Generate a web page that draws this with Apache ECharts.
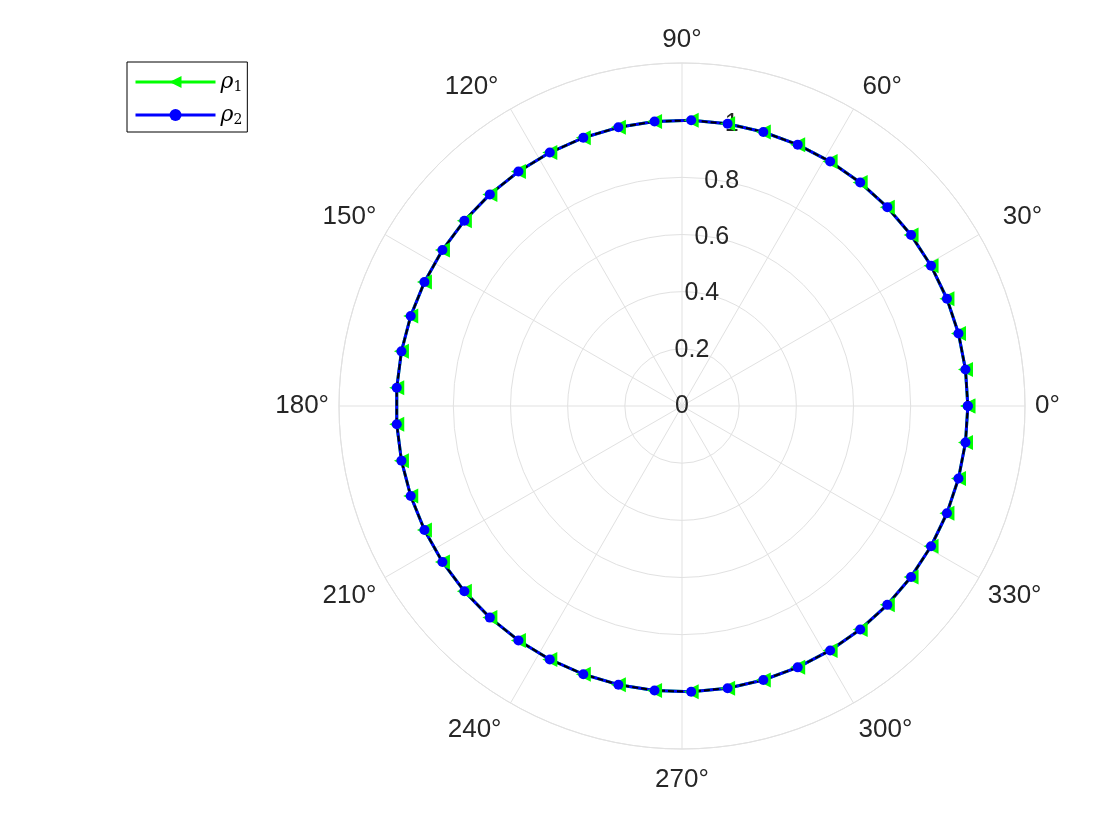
<!DOCTYPE html>
<html>
<head>
<meta charset="utf-8">
<script src="https://cdn.jsdelivr.net/npm/echarts@6/dist/echarts.min.js"></script>
<style>
  html, body { margin: 0; padding: 0; background: #fff; }
  #chart { width: 1120px; height: 840px; }
</style>
</head>
<body>
<div id="chart"></div>
<script>
// angles in degrees, 50 samples round the circle
const theta = [0, 7.35, 14.69, 22.04, 29.39, 36.73, 44.08, 51.43, 58.78, 66.12,
  73.47, 80.82, 88.16, 95.51, 102.86, 110.20, 117.55, 124.90, 132.24, 139.59,
  146.94, 154.29, 161.63, 168.98, 176.33, 183.67, 191.02, 198.37, 205.71, 213.06,
  220.41, 227.76, 235.10, 242.45, 249.80, 257.14, 264.49, 271.84, 279.18, 286.53,
  293.88, 301.22, 308.57, 315.92, 323.27, 330.61, 337.96, 345.31, 352.65, 360];
const rho1 = [1, 1, 1, 1, 1, 1, 1, 1, 1, 1, 1, 1, 1, 1, 1, 1, 1, 1, 1, 1, 1, 1, 1, 1, 1,
  1, 1, 1, 1, 1, 1, 1, 1, 1, 1, 1, 1, 1, 1, 1, 1, 1, 1, 1, 1, 1, 1, 1, 1, 1];
const rho2 = [1, 1, 1, 1, 1, 1, 1, 1, 1, 1, 1, 1, 1, 1, 1, 1, 1, 1, 1, 1, 1, 1, 1, 1, 1,
  1, 1, 1, 1, 1, 1, 1, 1, 1, 1, 1, 1, 1, 1, 1, 1, 1, 1, 1, 1, 1, 1, 1, 1, 1];
const rhoRef = rho2.slice();
const rTicks = [0, 0.2, 0.4, 0.6, 0.8, 1];

const gridColor = '#e1e1e1';
const textColor = '#262626';
const font = 'Liberation Sans, Arial, sans-serif';

// small nudges so the angle labels sit where MATLAB centres them
const angleLabelPad = {
  30: [0, 0, 0, 15],
  60: [0, 0, 0, 4],
  120: [0, 7, 0, 0],
  240: [5, 4, 0, 0],
  270: [8, 0, 0, 0],
  300: [5, 0, 0, 0]
};

const chart = echarts.init(document.getElementById('chart'));

function pairs (r) {
  return r.map((v, i) => [v, theta[i]]);
}

const angleRich = { d: { color: textColor, fontFamily: font, fontSize: 26 } };
Object.keys(angleLabelPad).forEach(k => {
  angleRich['p' + k] = { color: textColor, fontFamily: font, fontSize: 26, padding: angleLabelPad[k] };
});

const options = {
  animation: false,
  backgroundColor: '#fff',
  polar: [
    { center: [682, 406], radius: 343 },
    { center: [682, 406], radius: 343 }
  ],
  angleAxis: [
    {
      polarIndex: 0,
      type: 'value',
      min: 0,
      max: 360,
      interval: 30,
      startAngle: 0,
      clockwise: false,
      axisLine: { lineStyle: { color: gridColor, width: 1 } },
      axisTick: { show: false },
      axisLabel: {
        margin: 10,
        color: textColor,
        fontFamily: font,
        fontSize: 26,
        rich: angleRich,
        formatter: v => {
          if (v === 360) return '';
          const key = angleLabelPad[v] ? 'p' + v : 'd';
          return '{' + key + '|' + v + '°}';
        }
      },
      splitLine: { lineStyle: { color: gridColor, width: 1 } }
    },
    {
      polarIndex: 1,
      type: 'value',
      min: 0,
      max: 360,
      startAngle: 80,
      clockwise: false,
      show: false
    }
  ],
  radiusAxis: [
    {
      polarIndex: 0,
      type: 'value',
      min: 0,
      max: 1.2,
      interval: 0.2,
      axisLine: { show: false },
      axisTick: { show: false },
      axisLabel: { show: false },
      splitLine: { lineStyle: { color: gridColor, width: 1 } }
    },
    {
      polarIndex: 1,
      type: 'value',
      min: 0,
      max: 1.2,
      interval: 0.2,
      z: 0,
      axisLine: { show: false },
      axisTick: { show: false },
      splitLine: { show: false },
      axisLabel: {
        margin: 0,
        align: 'center',
        verticalAlign: 'middle',
        rotate: 0,
        color: textColor,
        fontFamily: font,
        fontSize: 25,
        formatter: v => {
          const hit = rTicks.find(t => Math.abs(t - v) < 1e-6);
          return hit === undefined ? '' : String(hit);
        }
      }
    }
  ],
  legend: {
    left: 127,
    top: 62,
    orient: 'vertical',
    data: ['rho1', 'rho2'],
    backgroundColor: '#fff',
    borderColor: '#000',
    borderWidth: 1,
    borderRadius: 0,
    padding: [9, 5, 5, 7],
    itemWidth: 80,
    itemHeight: 15,
    itemGap: 10,
    lineStyle: { width: 3 },
    formatter: name => (name === 'rho1' ? '{a|ρ}{b|1}' : '{a|ρ}{b|2}'),
    textStyle: {
      color: '#000',
      rich: {
        a: { fontFamily: 'DejaVu Serif', fontStyle: 'italic', fontSize: 22, color: '#000' },
        b: { fontFamily: 'DejaVu Serif', fontSize: 14, color: '#000', padding: [10, 0, 0, 0] }
      }
    }
  },
  series: [
    {
      name: 'rho1',
      type: 'line',
      coordinateSystem: 'polar',
      polarIndex: 0,
      z: 3,
      data: pairs(rho1),
      symbol: 'triangle',
      symbolRotate: 90,
      symbolSize: 15,
      color: '#00ff00',
      lineStyle: { color: '#00ff00', width: 3 },
      itemStyle: { color: '#00ff00' }
    },
    {
      name: 'rho2',
      type: 'line',
      coordinateSystem: 'polar',
      polarIndex: 0,
      z: 3,
      data: pairs(rho2),
      symbol: 'circle',
      symbolSize: 10,
      color: '#0000ff',
      lineStyle: { color: '#0000ff', width: 3 },
      itemStyle: { color: '#0000ff' }
    },
    {
      name: 'ref',
      type: 'line',
      coordinateSystem: 'polar',
      polarIndex: 0,
      z: 3,
      data: pairs(rhoRef),
      symbol: 'none',
      lineStyle: { color: '#000', width: 2, type: [6, 3] },
      silent: true
    }
  ]
};

chart.setOption(options);
</script>
</body>
</html>
